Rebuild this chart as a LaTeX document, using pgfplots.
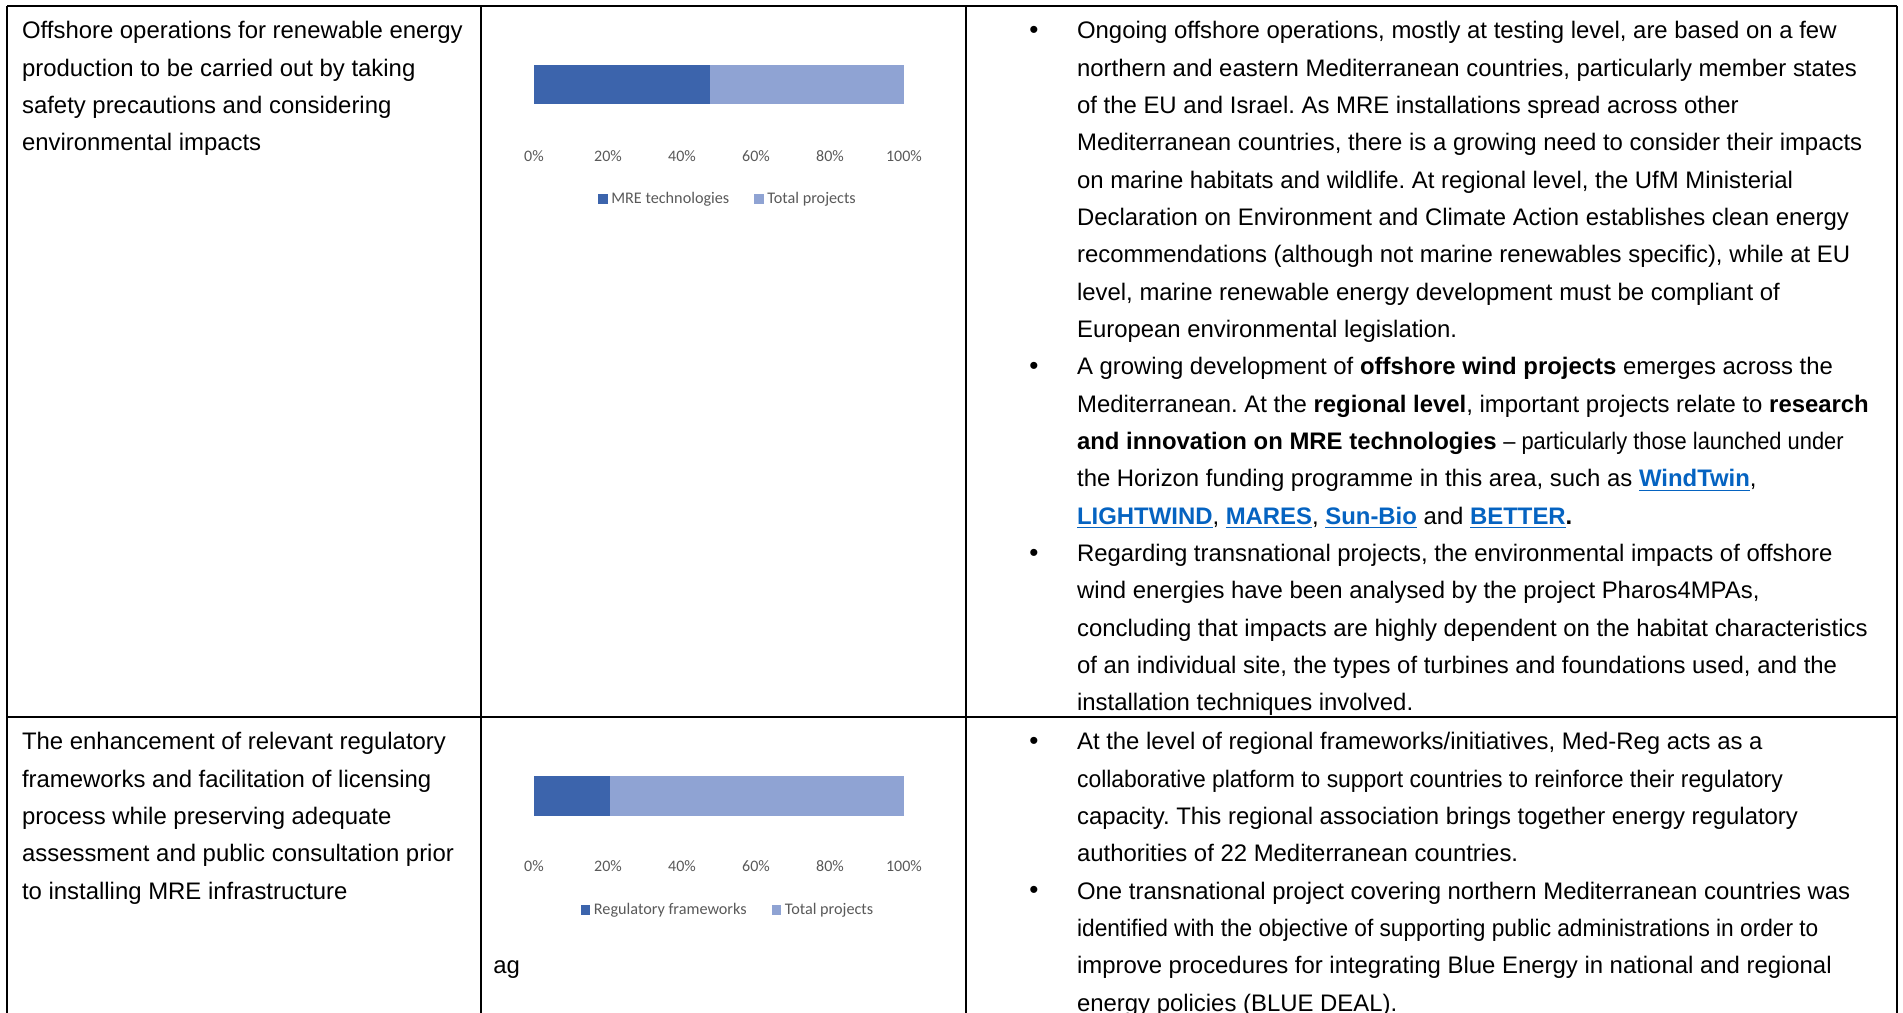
\documentclass[border=0pt]{standalone}
\usepackage{pgfplots}
\pgfplotsset{compat=1.18}
\usepackage{graphicx}
\usepackage{fontspec}
\setmainfont{Liberation Sans}
\newfontfamily\calibri{Carlito}
\frenchspacing
\definecolor{darkbar}{HTML}{3C64AC}
\definecolor{lightbar}{HTML}{8FA3D3}
\definecolor{tickgray}{HTML}{595959}
\definecolor{linkblue}{HTML}{0563C1}
\newcommand\lnk[1]{\textcolor{linkblue}{\underline{\textbf{#1}}}}
\newcommand\TL[4]{\node[anchor=base west,inner sep=0pt] at (#1,{1013-(#2)-37.333*(#3)}) {#4};}
\newcommand\BL[2]{\node[anchor=center,inner sep=0pt] at (1034,{1013-(#1)-37.333*(#2)+6.7}) {\fontsize{13}{13}\selectfont •};}
\pgfplotsset{minibar/.style={
  xbar stacked, scale only axis, width=185pt, height=55.5pt,
  xmin=0, xmax=100, ymin=0, ymax=111,
  axis line style={draw=none}, major tick style={draw=none}, ytick=\empty,
  xtick={0,20,40,60,80,100}, xticklabels={0\%,20\%,40\%,60\%,80\%,100\%},
  xticklabel style={anchor=center, font=\calibri\fontsize{8}{9}\selectfont, text=tickgray, inner sep=0pt},
  bar width=19.75pt,
  legend columns=2,
  legend image code/.code={\fill[##1,draw=none] (0pt,-2.35pt) rectangle (4.7pt,2.35pt);},
  legend style={draw=none, fill=none, font=\calibri\fontsize{8.1}{9}\selectfont, text=tickgray, anchor=center, inner sep=0pt, nodes={inner sep=0pt},
    /tikz/every odd column/.append style={column sep=1.9pt},
    /tikz/every even column/.append style={column sep=12.5pt}},
}}
\begin{document}
\begin{tikzpicture}
\begin{scope}[x=0.5pt,y=0.5pt,every node/.append style={font=\fontsize{11.95}{13}\selectfont}]
\path[use as bounding box] (0,0) rectangle (1903,1013);
% table rules
\draw[line width=0.85pt] (7,1007) -- (1896.7,1007);
\draw[line width=0.85pt] (7,295.7) -- (1896.7,295.7);
\draw[line width=0.85pt] (7,1007.4) -- (7,-20);
\draw[line width=0.85pt] (481.3,1007.4) -- (481.3,-20);
\draw[line width=0.85pt] (965.7,1007.4) -- (965.7,-20);
\draw[line width=0.85pt] (1896.7,1007.4) -- (1896.7,-20);
% left column row 1
\TL{21.7}{39}{0}{Offshore operations for renewable energy}
\TL{21.7}{39}{1}{production to be carried out by taking}
\TL{21.7}{39}{2}{safety precautions and considering}
\TL{21.7}{39}{3}{environmental impacts}
% left column row 2
\TL{21.7}{750}{0}{The enhancement of relevant regulatory}
\TL{21.7}{750}{1}{frameworks and facilitation of licensing}
\TL{21.7}{750}{2}{process while preserving adequate}
\TL{21.7}{750}{3}{assessment and public consultation prior}
\TL{21.7}{750}{4}{to installing MRE infrastructure}
\TL{493}{750}{6}{ag}
% right column row 1
\BL{39}{0}
\TL{1076.7}{39}{0}{Ongoing offshore operations, mostly at testing level, are based on a few}
\TL{1076.7}{39}{1}{northern and eastern Mediterranean countries, particularly member states}
\TL{1076.7}{39}{2}{of the EU and Israel. As MRE installations spread across other}
\TL{1076.7}{39}{3}{Mediterranean countries, there is a growing need to consider their impacts}
\TL{1076.7}{39}{4}{on marine habitats and wildlife. At regional level, the UfM Ministerial}
\TL{1076.7}{39}{5}{Declaration on Environment and Climate Action establishes clean energy}
\TL{1076.7}{39}{6}{recommendations (although not marine renewables specific), while at EU}
\TL{1076.7}{39}{7}{level, marine renewable energy development must be compliant of}
\TL{1076.7}{39}{8}{European environmental legislation.}
\BL{39}{9}
\TL{1076.7}{39}{9}{A growing development of \textbf{offshore wind projects} emerges across the}
\TL{1076.7}{39}{10}{Mediterranean. At the \textbf{regional level}, important projects relate to \textbf{research}}
\TL{1076.7}{39}{11}{\textbf{and innovation on MRE technologies} \scalebox{0.915}[1]{– particularly those launched under}}
\TL{1076.7}{39}{12}{the Horizon funding programme in this area, such as \lnk{WindTwin},}
\TL{1076.7}{39}{13}{\lnk{LIGHTWIND}, \lnk{MARES}, \lnk{Sun-Bio} and \lnk{BETTER}\textbf{.}}
\BL{39}{14}
\TL{1076.7}{39}{14}{Regarding transnational projects, the environmental impacts of offshore}
\TL{1076.7}{39}{15}{wind energies have been analysed by the project Pharos4MPAs,}
\TL{1076.7}{39}{16}{concluding that impacts are highly dependent on the habitat characteristics}
\TL{1076.7}{39}{17}{of an individual site, the types of turbines and foundations used, and the}
\TL{1076.7}{39}{18}{installation techniques involved.}
% right column row 2
\BL{750}{0}
\TL{1076.7}{750}{0}{At the level of regional frameworks/initiatives, Med-Reg acts as a}
\TL{1076.7}{750}{1}{\scalebox{0.959}[1]{collaborative platform to support countries to reinforce their regulatory}}
\TL{1076.7}{750}{2}{capacity. This regional association brings together energy regulatory}
\TL{1076.7}{750}{3}{authorities of 22 Mediterranean countries.}
\BL{750}{4}
\TL{1076.7}{750}{4}{One transnational project covering northern Mediterranean countries was}
\TL{1076.7}{750}{5}{\scalebox{0.949}[1]{identified with the objective of supporting public administrations in order to}}
\TL{1076.7}{750}{6}{improve procedures for integrating Blue Energy in national and regional}
\TL{1076.7}{750}{7}{energy policies (BLUE DEAL).}
\end{scope}
% chart 1
\begin{axis}[minibar, at={(267pt,428.5pt)}, anchor=south west,
  legend style={at={(axis description cs:0.5216,-0.387)}}]
\addplot[fill=darkbar, draw=none] coordinates {(47.6,71.5)};
\addlegendentry{MRE technologies}
\addplot[fill=lightbar, draw=none] coordinates {(52.4,71.5)};
\addlegendentry{Total projects}
\end{axis}
% chart 2
\begin{axis}[minibar, at={(267pt,73.5pt)}, anchor=south west,
  legend style={at={(axis description cs:0.5216,-0.396)}}]
\addplot[fill=darkbar, draw=none] coordinates {(20.5,70)};
\addlegendentry{Regulatory frameworks}
\addplot[fill=lightbar, draw=none] coordinates {(79.5,70)};
\addlegendentry{Total projects}
\end{axis}
\end{tikzpicture}
\end{document}
